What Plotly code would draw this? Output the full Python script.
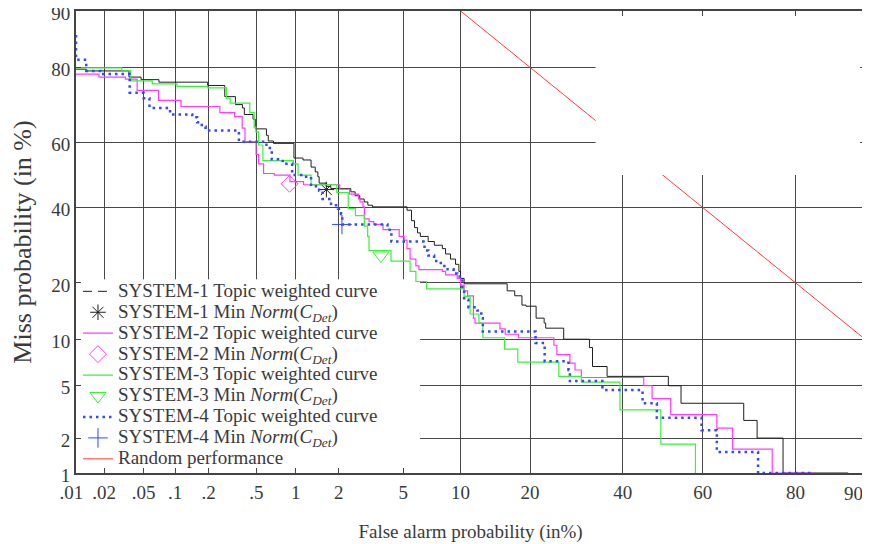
from statistics import NormalDist
import plotly.graph_objects as go

nd = NormalDist().inv_cdf


def dev(vals):
    # percent -> normal deviate (DET scale)
    return [nd(v / 100.0) for v in vals]


# SYSTEM-1 topic weighted curve (false alarm %, miss %)
sys1_fa = [0.01, 0.0129, 0.0358, 0.0472, 0.0703, 0.196, 0.275, 0.338, 0.386, 0.40,
           0.47, 0.49, 0.60, 0.62, 0.68, 0.97, 1.13, 1.29, 1.38, 1.44,
           1.47, 1.64, 1.77, 2.40, 2.56, 2.74, 2.92, 3.08, 3.29, 5.25,
           5.56, 5.78, 6.0, 6.22, 6.85, 7.38, 8.12, 8.43, 8.92, 9.45,
           9.81, 10.0, 10.4, 16.2, 17.4, 18.6, 19.3, 21.1, 22.6, 22.9,
           26.5, 32.1, 32.8, 36.2, 51.4, 54.6, 69.6, 72.5, 77.7, 88.0]
sys1_miss = [79.6, 79.2, 77.8, 77.2, 76.6, 75.8, 73.0, 70.9, 70.0, 68.2,
             66.9, 64.1, 62.2, 60.5, 59.8, 55.3, 54.7, 52.5, 51.0, 49.5,
             47.5, 46.5, 45.8, 44.8, 43.6, 42.6, 41.7, 40.7, 40.2, 39.2,
             36.1, 34.1, 32.6, 31.6, 30.2, 29.2, 28.3, 26.9, 25.6, 24.3,
             22.6, 21.0, 19.8, 18.3, 17.3, 15.5, 15.3, 13.2, 12.4, 11.6,
             10.0, 8.9, 6.75, 5.8, 5.0, 3.74, 2.77, 2.0, 1.0, 1.0]

# SYSTEM-2
sys2_fa = [0.01, 0.0176, 0.033, 0.0432, 0.0697, 0.113, 0.25, 0.333, 0.384, 0.405,
           0.497, 0.52, 0.57, 0.69, 0.906, 1.14, 2.03, 2.36, 2.69, 2.75,
           2.87, 2.93, 3.13, 3.35, 3.81, 4.74, 5.06, 5.25, 5.46, 5.88,
           6.11, 8.12, 8.43, 9.63, 10.0, 10.4, 10.8, 11.5, 11.7, 15.1,
           15.9, 18.0, 24.5, 25.1, 27.8, 28.9, 30.3, 45.2, 47.3, 52.0,
           63.4, 67.1, 75.6, 83.2]
sys2_miss = [78.5, 77.8, 77.3, 74.6, 72.0, 70.4, 68.7, 67.6, 64.3, 60.3,
             56.4, 53.5, 50.5, 50.0, 48.0, 47.0, 45.6, 44.1, 42.6, 41.7,
             40.2, 36.6, 35.8, 35.0, 33.5, 31.6, 30.6, 28.3, 25.6, 23.9,
             23.0, 22.6, 21.8, 21.0, 19.5, 18.3, 17.3, 13.2, 12.4, 11.5,
             10.7, 10.2, 9.2, 8.05, 7.1, 6.4, 5.7, 5.0, 4.05, 3.07,
             2.41, 1.62, 1.0, 1.0]

# SYSTEM-3
sys3_fa = [0.01, 0.0303, 0.0373, 0.0607, 0.104, 0.196, 0.284, 0.305, 0.443, 0.48,
           0.495, 0.52, 0.563, 0.96, 1.04, 1.29, 1.94, 2.31, 2.57, 2.93,
           3.07, 3.13, 4.25, 5.46, 5.88, 6.72, 10.4, 11.1, 12.2, 12.7,
           15.8, 17.9, 25.5, 30.3, 39.3, 49.5, 58.2]
sys3_miss = [79.9, 79.2, 76.9, 76.2, 75.6, 75.2, 72.6, 71.3, 68.7, 64.6,
             63.2, 59.3, 54.5, 53.5, 50.0, 47.0, 44.6, 39.7, 37.6, 34.5,
             31.6, 27.8, 25.1, 22.6, 20.3, 18.7, 17.2, 13.9, 12.4, 10.2,
             8.7, 7.2, 5.8, 5.3, 3.34, 1.78, 0.9]

# SYSTEM-4
sys4_fa = [0.01, 0.01, 0.0129, 0.0185, 0.0364, 0.05, 0.057, 0.0895, 0.143, 0.158,
           0.174, 0.188, 0.361, 0.60, 0.66, 0.80, 0.94, 1.13, 1.29, 1.47,
           1.553, 1.774, 1.98, 2.07, 2.11, 4.05, 4.27, 6.47, 6.55, 6.87,
           7.36, 7.97, 8.63, 9.24, 9.63, 10.2, 10.4, 10.9, 12.0, 12.5,
           12.7, 21.0, 22.7, 27.5, 27.8, 35.1, 44.9, 48.5, 59.7, 63.4,
           72.7, 82.7]
sys4_miss = [86.3, 81.6, 79.2, 78.5, 74.0, 72.6, 70.0, 68.2, 67.4, 66.0,
             64.8, 63.6, 60.3, 58.4, 54.9, 53.5, 50.0, 49.5, 46.5, 45.1,
             42.6, 40.7, 39.6, 38.1, 35.0, 33.5, 30.2, 29.2, 27.8, 26.5,
             25.1, 23.9, 23.1, 22.1, 21.4, 18.7, 16.5, 15.1, 14.5, 13.2,
             11.1, 9.5, 7.3, 6.4, 5.4, 4.67, 3.74, 2.9, 2.32, 1.53,
             1.0, 1.0]

# min Norm(C_Det) points, one per system
min_fa = [1.65, 0.9, 3.7, 2.1]
min_miss = [45.5, 47.3, 26.5, 35.0]

# random performance
rand_fa = [10, 90]
rand_miss = [90, 10]

x_ticks = [0.01, 0.02, 0.05, 0.1, 0.2, 0.5, 1, 2, 5, 10, 20, 40, 60, 80, 90]
x_labels = [".01\u2002", ".02", ".05", ".1", ".2", ".5", "1", "2", "5", "10", "20",
            "40", "60", "80", ""]
last_x_label = "90"   # drawn right-aligned at the axis end
y_ticks = [1, 2, 5, 10, 20, 40, 60, 80, 90]
y_labels = ["1", "2", "5", "10", "20", "40", "60", "80", "90"]

BLACK = "#1e1e1e"
MAGENTA = "#ff3cff"
GREEN = "#3cf03c"
BLUE = "#3048ff"
RED = "#ff3c3c"
TEXT = "#3a3a3a"
FONT = "Liberation Serif, Times New Roman, serif"

XMIN, XMAX = nd(0.0001), nd(0.9)
YMIN, YMAX = nd(0.01), nd(0.9)


def lab(s):
    # bigger text inside a tight legend row
    return '<span style="font-size:19px">' + s + "</span>"


norm = "Min <i>Norm</i>(<i>C<sub>Det</sub></i>)"

fig = go.Figure()

# white patch behind the legend: hides grid, not curves
bx, by = nd(0.062), nd(0.208)
fig.add_trace(go.Scatter(x=[XMIN, bx, bx, XMIN, XMIN], y=[YMIN, YMIN, by, by, YMIN],
                         mode="lines", fill="toself", fillcolor="white",
                         line=dict(width=0, color="white"), showlegend=False, hoverinfo="skip"))

# black curve drawn solid, legend sample dashed
fig.add_trace(go.Scatter(x=dev(sys1_fa), y=dev(sys1_miss), mode="lines",
                         line=dict(color=BLACK, width=1, shape="hv"), showlegend=False))
fig.add_trace(go.Scatter(x=[None], y=[None], mode="lines", name=lab("SYSTEM-1 Topic weighted curve"),
                         line=dict(color=BLACK, width=1, dash="9px,6px")))
fig.add_trace(go.Scatter(x=dev(min_fa[:1]), y=dev(min_miss[:1]), mode="markers",
                         name=lab("SYSTEM-1 " + norm),
                         marker=dict(symbol="asterisk-open", size=13, color=BLACK,
                                     line=dict(color=BLACK, width=1))))
fig.add_trace(go.Scatter(x=dev(sys2_fa), y=dev(sys2_miss), mode="lines",
                         name=lab("SYSTEM-2 Topic weighted curve"),
                         line=dict(color=MAGENTA, width=1.2, shape="hv")))
fig.add_trace(go.Scatter(x=dev(min_fa[1:2]), y=dev(min_miss[1:2]), mode="markers",
                         name=lab("SYSTEM-2 " + norm),
                         marker=dict(symbol="diamond-open", size=13, color=MAGENTA,
                                     line=dict(color=MAGENTA, width=1))))
fig.add_trace(go.Scatter(x=dev(sys3_fa), y=dev(sys3_miss), mode="lines",
                         name=lab("SYSTEM-3 Topic weighted curve"),
                         line=dict(color=GREEN, width=1.2, shape="hv")))
fig.add_trace(go.Scatter(x=dev(min_fa[2:3]), y=dev(min_miss[2:3]), mode="markers",
                         name=lab("SYSTEM-3 " + norm),
                         marker=dict(symbol="triangle-down-open", size=14, color=GREEN,
                                     line=dict(color=GREEN, width=1))))
fig.add_trace(go.Scatter(x=dev(sys4_fa), y=dev(sys4_miss), mode="lines",
                         name=lab("SYSTEM-4 Topic weighted curve"),
                         line=dict(color=BLUE, width=2.5, dash="2.5px,4px", shape="hv")))
fig.add_trace(go.Scatter(x=dev(min_fa[3:]), y=dev(min_miss[3:]), mode="markers",
                         name=lab("SYSTEM-4 " + norm),
                         marker=dict(symbol="cross-thin-open", size=14, color=BLUE,
                                     line=dict(color=BLUE, width=1))))
fig.add_trace(go.Scatter(x=dev(rand_fa), y=dev(rand_miss), mode="lines",
                         name=lab("Random performance"), line=dict(color=RED, width=1)))

# blank patch in the upper right corner (covers grid and the random line)
cx, cy = nd(0.335), nd(0.5)
fig.add_trace(go.Scatter(x=[cx, XMAX, XMAX, cx, cx], y=[cy, cy, YMAX, YMAX, cy],
                         mode="lines", fill="toself", fillcolor="white",
                         line=dict(width=0, color="white"), showlegend=False, hoverinfo="skip"))

axis_common = dict(showgrid=True, gridcolor="#484848", zeroline=False, automargin=False,
                   showline=True, linecolor="#444444", linewidth=2, mirror="ticks",
                   ticks="inside", ticklen=5, tickcolor="#444444", tickwidth=1.2,
                   ticklabeloverflow="allow", tickangle=0,
                   tickfont=dict(family=FONT, size=19, color=TEXT))

# the page body adds an 8px offset, margins are set against that
fig.update_layout(
    template="none",
    width=870, height=544,
    margin=dict(l=68, r=13, t=3, b=79),
    paper_bgcolor="white", plot_bgcolor="white",
    font=dict(family=FONT, size=17, color=TEXT),
    showlegend=True,
    legend=dict(x=0.0025, y=-0.004, xanchor="left", yanchor="bottom",
                bgcolor="rgba(0,0,0,0)", borderwidth=0, traceorder="normal",
                font=dict(family=FONT, size=13.8, color=TEXT)),
    xaxis=dict(range=[XMIN, XMAX], tickvals=dev(x_ticks), ticktext=x_labels,
               gridwidth=1.1, ticklabelstandoff=1,
               title=dict(text="False alarm probability (in%)", standoff=23,
                          font=dict(family=FONT, size=19, color=TEXT)),
               **axis_common),
    yaxis=dict(range=[YMIN, YMAX], tickvals=dev(y_ticks), ticktext=y_labels,
               gridwidth=1.3, ticklabelshift=2,
               title=dict(text="Miss probability (in %)", standoff=25,
                          font=dict(family=FONT, size=26, color=TEXT)),
               **axis_common),
    annotations=[dict(text=last_x_label, x=XMAX, xref="x", y=0, yref="y domain",
                      xanchor="right", yanchor="top", yshift=-8, showarrow=False,
                      font=dict(family=FONT, size=19, color=TEXT))],
)

fig.write_html("out.html")
